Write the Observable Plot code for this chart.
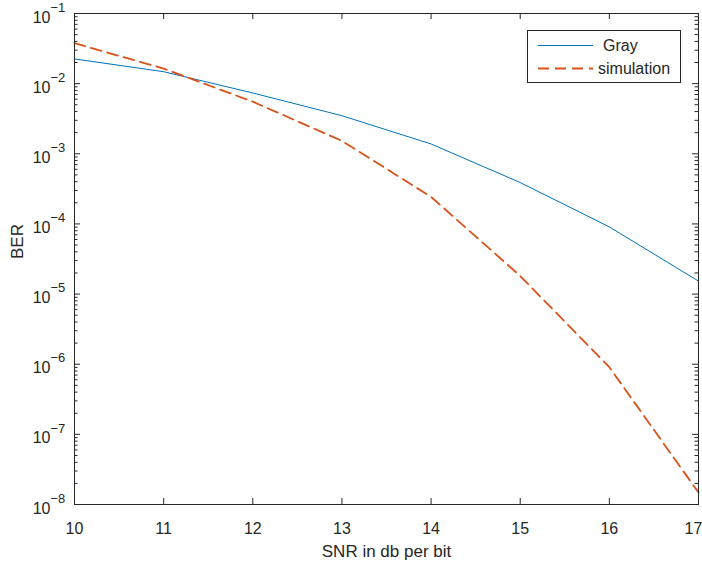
<!DOCTYPE html>
<html>
<head>
<meta charset="utf-8">
<script src="https://cdn.jsdelivr.net/npm/d3@7"></script>
<script src="https://cdn.jsdelivr.net/npm/@observablehq/plot@0.6"></script>
<style>
  html, body { margin: 0; padding: 0; background: #fff; }
  #wrap { position: relative; width: 702px; height: 568px; font-family: "Liberation Sans", Arial, sans-serif; }
  #legend { position: absolute; left: 527px; top: 30px; width: 152px; height: 51px; border: 1px solid #262626; background: #fff; }
</style>
</head>
<body>
<div id="wrap"></div>
<script>
// ---- data ----
const snr = [10, 11, 12, 13, 14, 15, 16, 17];
const grayBER = [2.25e-2, 1.48e-2, 7.36e-3, 3.49e-3, 1.38e-3, 3.89e-4, 9.06e-5, 1.53e-5];
const simBER = [3.77e-2, 1.64e-2, 5.53e-3, 1.53e-3, 2.43e-4, 1.81e-5, 9.06e-7, 1.48e-8];
const xTicks = [10, 11, 12, 13, 14, 15, 16, 17];
const yExponents = [-8, -7, -6, -5, -4, -3, -2, -1];
const seriesNames = ["Gray", "simulation"];
const xLabel = "SNR in db per bit";
const yLabel = "BER";

// ---- derived tables ----
const grayData = snr.map((x, i) => ({x, y: grayBER[i]}));
const simData = snr.map((x, i) => ({x, y: simBER[i]}));
const yMajor = yExponents.map(e => Math.pow(10, e));
const yMinor = [];
for (const e of yExponents.slice(0, -1)) for (let m = 2; m <= 9; m++) yMinor.push(m * Math.pow(10, e));
const xInner = xTicks.slice(1, -1);
const xLabelsMain = xTicks.slice(0, -1);
const xLabelsLast = xTicks.slice(-1);

const W = 702, H = 568, ML = 74, MR = 4, MT = 13, MB = 64;
const FW = W - ML - MR, FH = H - MT - MB;
const ink = "#262626";

const chart = Plot.plot({
  width: W, height: H,
  marginLeft: ML, marginRight: MR, marginTop: MT, marginBottom: MB,
  style: {fontFamily: '"Liberation Sans", Arial, sans-serif', background: "#fff", color: ink},
  x: {domain: [10, 17], axis: null},
  y: {type: "log", domain: [1e-8, 1e-1], axis: null},
  marks: [
    Plot.line(grayData, {x: "x", y: "y", stroke: "#0072BD", strokeWidth: 1}),
    Plot.line(simData, {x: "x", y: "y", stroke: "#D95319", strokeWidth: 1.8, strokeDasharray: "11,6"}),
    // inward ticks on all four sides
    Plot.tickX(xInner, {x: d => d, insetTop: FH - 6, stroke: ink}),
    Plot.tickX(xInner, {x: d => d, insetBottom: FH - 6, stroke: ink}),
    Plot.tickY(yMajor, {y: d => d, insetRight: FW - 6, stroke: ink}),
    Plot.tickY(yMajor, {y: d => d, insetLeft: FW - 6, stroke: ink}),
    Plot.tickY(yMinor, {y: d => d, insetRight: FW - 3.5, stroke: ink}),
    Plot.tickY(yMinor, {y: d => d, insetLeft: FW - 3.5, stroke: ink}),
    Plot.frame({stroke: ink}),
    // x tick labels
    Plot.text(xLabelsMain, {x: d => d, frameAnchor: "bottom", dy: 24,
      text: d => String(d), fontSize: 16, fill: ink, lineAnchor: "middle"}),
    Plot.text(xLabelsLast, {x: d => d, frameAnchor: "bottom", dy: 24, dx: -5,
      text: d => String(d), fontSize: 16, fill: ink, lineAnchor: "middle"}),
    // y tick labels: base and superscript
    Plot.text(yMajor, {y: d => d, frameAnchor: "left", dx: -24, dy: 4, text: () => "10",
      fontSize: 16, fill: ink, textAnchor: "end", lineAnchor: "middle"}),
    Plot.text(yExponents, {y: e => Math.pow(10, e), frameAnchor: "left", dx: -24, dy: -6,
      text: e => "\u2212" + Math.abs(e), fontSize: 13, fill: ink, textAnchor: "start", lineAnchor: "middle"}),
    // axis labels
    Plot.text([xLabel], {frameAnchor: "bottom", dy: 47, text: d => d, fontSize: 17, fill: ink, lineAnchor: "middle"}),
    Plot.text([yLabel], {frameAnchor: "left", dx: -57, rotate: -90, text: d => d, fontSize: 17, fill: ink, lineAnchor: "middle"})
  ]
});
const wrap = document.getElementById("wrap");
wrap.appendChild(chart);

// legend overlay
const leg = document.createElement("div");
leg.id = "legend";
leg.innerHTML = `<svg width="152" height="51" style="display:block">
  <line x1="10" x2="65" y1="14.5" y2="14.5" stroke="#0072BD" stroke-width="1"/>
  <text x="75" y="14.5" dominant-baseline="central" font-size="16" fill="${ink}" font-family="Liberation Sans, Arial, sans-serif">${seriesNames[0]}</text>
  <line x1="10" x2="65" y1="37.5" y2="37.5" stroke="#D95319" stroke-width="1.8" stroke-dasharray="11,6"/>
  <text x="70" y="37.5" dominant-baseline="central" font-size="16" fill="${ink}" font-family="Liberation Sans, Arial, sans-serif">${seriesNames[1]}</text>
</svg>`;
wrap.appendChild(leg);
</script>
</body>
</html>
